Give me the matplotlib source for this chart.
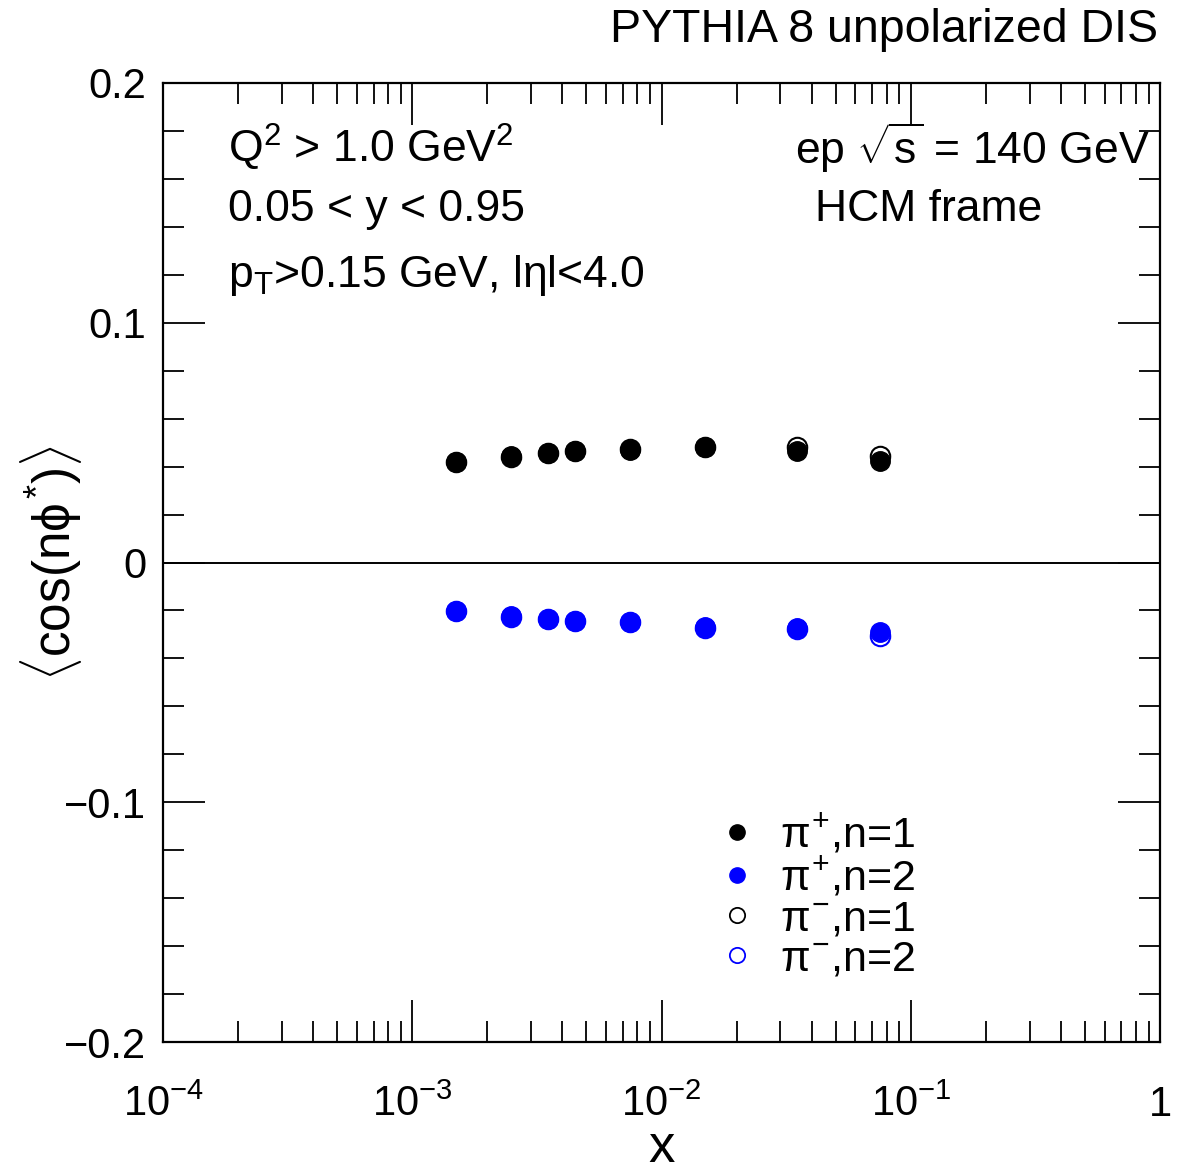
import matplotlib
matplotlib.use('Agg')
import matplotlib.pyplot as plt
from matplotlib.ticker import FixedLocator, LogLocator, NullFormatter, FixedFormatter
from matplotlib.lines import Line2D

plt.rcParams['font.family'] = ['Liberation Sans', 'DejaVu Sans']
plt.rcParams['mathtext.fontset'] = 'custom'
plt.rcParams['mathtext.rm'] = 'Liberation Sans'
plt.rcParams['mathtext.it'] = 'Liberation Sans'
plt.rcParams['mathtext.bf'] = 'Liberation Sans:bold'

# x bins
x_vals = [0.0015, 0.0025, 0.0035, 0.0045, 0.0075, 0.015, 0.035, 0.075]

# <cos(n phi*)> per species and harmonic
pip_n1 = [0.0421, 0.0443, 0.0458, 0.0463, 0.0471, 0.0481, 0.0464, 0.0425]
pim_n1 = [0.0420, 0.0440, 0.0457, 0.0463, 0.0472, 0.0481, 0.0481, 0.0446]
pip_n2 = [-0.0202, -0.0224, -0.0235, -0.0243, -0.0248, -0.0270, -0.0274, -0.0290]
pim_n2 = [-0.0203, -0.0226, -0.0236, -0.0244, -0.0249, -0.0273, -0.0279, -0.0307]

labels = [r'$\pi^{+}$,n=1', r'$\pi^{+}$,n=2', r'$\pi^{-}$,n=1', r'$\pi^{-}$,n=2']

fig = plt.figure(figsize=(11.9, 11.72), dpi=100)
ax = fig.add_axes([0.137, 0.1109, 0.9748 - 0.137, 0.9292 - 0.1109])

ms = 14
ax.plot(x_vals, pim_n1, 'o', ms=ms, mfc='none', mec='black', mew=1.5, ls='none')
ax.plot(x_vals, pim_n2, 'o', ms=ms, mfc='none', mec='blue', mew=1.5, ls='none')
ax.plot(x_vals, pip_n1, 'o', ms=ms, mfc='black', mec='black', ls='none')
ax.plot(x_vals, pip_n2, 'o', ms=ms, mfc='blue', mec='blue', ls='none')

ax.axhline(0, color='black', lw=1.4)

ax.set_xscale('log')
ax.set_xlim(1e-4, 1)
ax.set_ylim(-0.2, 0.2)

# ticks, ROOT style: inside, all sides
ax.xaxis.set_major_locator(FixedLocator([1e-4, 1e-3, 1e-2, 1e-1, 1]))
ax.xaxis.set_major_formatter(FixedFormatter([r'$10^{-4}$', r'$10^{-3}$', r'$10^{-2}$', r'$10^{-1}$', '1']))
ax.xaxis.set_minor_locator(LogLocator(base=10, subs=range(2, 10), numticks=20))
ax.xaxis.set_minor_formatter(NullFormatter())
ax.yaxis.set_major_locator(FixedLocator([-0.2, -0.1, 0, 0.1, 0.2]))
ax.yaxis.set_major_formatter(FixedFormatter([u'\u22120.2', u'\u22120.1', '0', '0.1', '0.2']))
ax.yaxis.set_minor_locator(FixedLocator([v / 100 for v in range(-20, 21, 2)]))

ax.tick_params(which='both', direction='in', top=True, right=True, width=1.3, labelsize=30)
ax.tick_params(which='major', length=30)
ax.tick_params(which='minor', length=15)
ax.tick_params(axis='x', which='major', pad=31)
ax.tick_params(axis='y', which='major', pad=12)
for s in ax.spines.values():
    s.set_linewidth(1.6)

ax.set_xlabel('x', fontsize=38, labelpad=-2)
ax.set_ylabel(r'$\langle$cos(n$\phi^{*}$)$\rangle$', fontsize=37)
ax.yaxis.set_label_coords(-0.079, 0.5)

# annotations
ax.text(0.065, 0.933, r'Q$^{2}$ > 1.0 GeV$^{2}$', transform=ax.transAxes, fontsize=32, va='center')
ax.text(0.065, 0.868, '0.05 < y < 0.95', transform=ax.transAxes, fontsize=32, va='center')
ax.text(0.065, 0.799, r'p$_{\mathrm{T}}$>0.15 GeV, l$\eta$l<4.0', transform=ax.transAxes, fontsize=32, va='center')
ax.text(0.99, 0.933, r'ep $\sqrt{s}$ = 140 GeV', transform=ax.transAxes, fontsize=32, va='center', ha='right')
ax.text(0.654, 0.868, 'HCM frame', transform=ax.transAxes, fontsize=32, va='center')

fig.text(0.973, 0.974, 'PYTHIA 8 unpolarized DIS', fontsize=33.5, ha='right', va='center')

handles = [
    Line2D([], [], marker='o', ls='none', ms=11, mfc='black', mec='black'),
    Line2D([], [], marker='o', ls='none', ms=11, mfc='blue', mec='blue'),
    Line2D([], [], marker='o', ls='none', ms=11, mfc='none', mec='black', mew=1.3),
    Line2D([], [], marker='o', ls='none', ms=11, mfc='none', mec='blue', mew=1.3),
]
ax.legend(handles, labels, loc='upper left', bbox_to_anchor=(0.541, 0.262), frameon=False,
          fontsize=31, handlelength=0.6, handletextpad=0.7, labelspacing=0.0, borderpad=0)

fig.savefig('out.png', dpi=100, facecolor='white')
